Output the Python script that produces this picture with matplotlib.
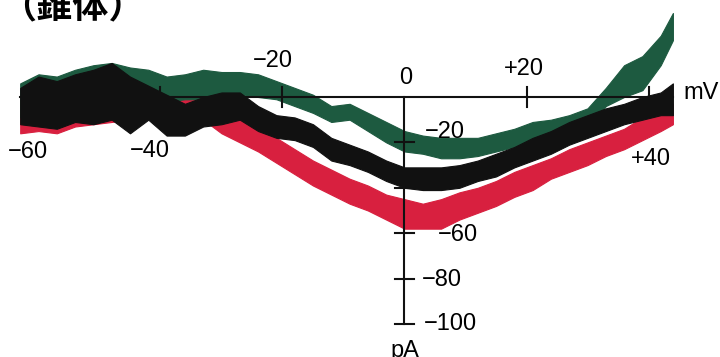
import numpy as np
import matplotlib.pyplot as plt

# membrane potential (mV) where the trace bands were read
volt = [-63, -60, -57, -54, -51, -48, -45, -42, -39, -36, -33, -30, -27, -24,
        -21, -18, -15, -12, -9, -6, -3, 0, 3, 6, 9, 12, 15, 18, 21, 24, 27,
        30, 33, 36, 39, 42, 44]

# current (pA), upper / lower edge of each noisy trace
green_hi = [6, 10, 9, 12, 14, 15, 13, 12, 9, 10, 12, 11, 11, 10, 7, 4, 1, -4, -3,
            -7, -11, -15, -17, -18, -18, -18, -16, -14, -11, -10, -8, -5, 4,
            14, 18, 27, 37]
green_lo = [-9, -8, -12, -8, -6, -7, -3, -2, -2, -1, -1, 0, 1, 0, -1, -4, -7, -11,
            -10, -15, -20, -24, -25, -27, -27, -26, -24, -22, -20, -19, -17,
            -15, -4, 0, 3, 14, 25]
black_hi = [4, 9, 7, 10, 12, 15, 9, 5, 1, -3, 0, 2, 2, -4, -8, -9, -12, -18,
            -21, -24, -28, -31, -31, -31, -30, -28, -25, -22, -18, -15, -11,
            -8, -5, -3, 0, 2, 6]
black_lo = [-12, -13, -14, -11, -12, -10, -16, -10, -17, -17, -13, -12, -10, -15,
            -18, -19, -22, -28, -30, -33, -37, -40, -41, -41, -40, -37, -35,
            -31, -28, -25, -21, -18, -15, -12, -10, -8, -8]
red_hi = [-1, 1, 2, 1, 2, 3, 2, 2, 1, 0, 1, -4, -8, -14, -18, -23, -28, -32,
          -36, -39, -43, -45, -47, -45, -42, -40, -37, -33, -30, -27, -23, -20,
          -17, -14, -9, -6, -3]
red_lo = [-16, -15, -16, -13, -12, -11, -10, -9, -10, -11, -10, -16, -20, -24, -29,
          -34, -39, -43, -47, -50, -54, -58, -58, -58, -54, -51, -48, -44, -41,
          -36, -33, -30, -26, -23, -19, -15, -12]

x_ticks = [-60, -40, -20, 20, 40]
y_ticks = [-20, -40, -60, -80, -100]

RED = '#d8203f'
GREEN = '#1d5a40'
BLACK = '#111111'

fig = plt.figure(figsize=(7.2, 3.57), dpi=100)
ax = fig.add_axes([0, 0, 1, 1])
ax.set_xlim(-404.5 / 6.1, (720 - 404.5) / 6.1)
ax.set_ylim(-(357 - 97) / 2.27, 97 / 2.27)
ax.axis('off')

for hi, lo, c in [(red_hi, red_lo, RED), (green_hi, green_lo, GREEN),
                  (black_hi, black_lo, BLACK)]:
    ax.fill_between(volt, lo, hi, color=c, lw=0.8, edgecolor=c, zorder=2)

# axes through the origin
ax.plot([volt[0], volt[-1]], [0, 0], color=BLACK, lw=1.5, zorder=3)
ax.plot([0, 0], [0, -100], color=BLACK, lw=1.5, zorder=3)
for t in x_ticks:
    ax.plot([t, t], [-4.4, 4.4], color=BLACK, lw=1.5, zorder=3)
for t in y_ticks:
    ax.plot([-1.6, 1.6], [t, t], color=BLACK, lw=1.5, zorder=3)

fs = 17
font = 'Liberation Sans'
kw = dict(fontsize=fs, family=font, ha='center', va='center', zorder=4)
ax.text(-61.7, -24.2, '\u221260', **kw)
ax.text(-41.7, -23.8, '\u221240', **kw)
ax.text(-21.6, 15.9, '\u221220', **kw)
ax.text(0.2, 8.4, '0', **kw)
ax.text(19.6, 12.3, '+20', **kw)
ax.text(40.4, -27.3, '+40', **kw)
ax.text(6.6, -15.4, '\u221220', **kw)
ax.text(8.8, -60.8, '\u221260', **kw)
ax.text(6.1, -80.6, '\u221280', **kw)
ax.text(7.5, -100, '\u2212100', **kw)
ax.text(0, -112, 'pA', **kw)
ax.text(45.7, 1.8, 'mV', fontsize=fs, family=font, ha='left', va='center')

fig.text(0.0, 0.951, '（錐体）', fontsize=26, fontweight='bold',
         family=['Noto Sans CJK JP', 'DejaVu Sans'], ha='left', va='baseline')

fig.savefig('out.png', dpi=100)
